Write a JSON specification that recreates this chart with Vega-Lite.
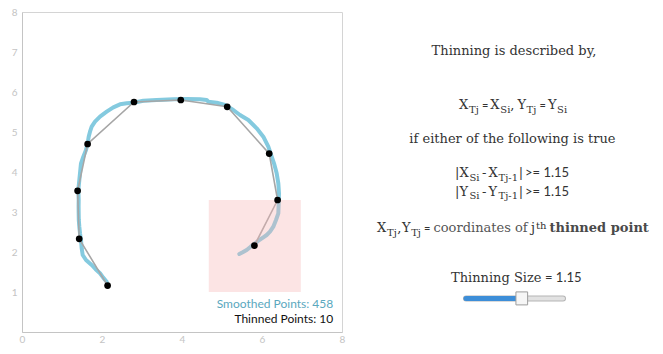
{
  "$schema": "https://vega.github.io/schema/vega-lite/v6.json",
  "width": 320,
  "height": 320,
  "padding": {"left": 5, "top": 7, "right": 5, "bottom": 5},
  "background": "white",
  "config": {
    "view": {"stroke": "#d4d4d4"},
    "axis": {"grid": false, "ticks": false, "tickSize": 0, "domainColor": "#c4c4c4", "labelColor": "#c4c4c4", "labelFont": "Lato", "labelFontSize": 10, "labelFlush": false, "labelOverlap": false},
    "axisX": {"labelPadding": 2},
    "axisY": {"labelPadding": 5, "minExtent": 17, "maxExtent": 17}
  },
  "datasets": {
    "smoothed": [
      {"i": 1, "x": 2.14, "y": 1.17}, {"i": 2, "x": 2.117, "y": 1.258}, {"i": 3, "x": 2.03, "y": 1.36}, {"i": 4, "x": 1.95, "y": 1.467},
      {"i": 5, "x": 1.84, "y": 1.57}, {"i": 6, "x": 1.742, "y": 1.675}, {"i": 7, "x": 1.6, "y": 1.8}, {"i": 8, "x": 1.517, "y": 1.925},
      {"i": 9, "x": 1.492, "y": 2.092}, {"i": 10, "x": 1.475, "y": 2.3}, {"i": 11, "x": 1.45, "y": 2.467}, {"i": 12, "x": 1.433, "y": 2.633},
      {"i": 13, "x": 1.42, "y": 2.8}, {"i": 14, "x": 1.417, "y": 2.967}, {"i": 15, "x": 1.415, "y": 3.13}, {"i": 16, "x": 1.417, "y": 3.3},
      {"i": 17, "x": 1.408, "y": 3.55}, {"i": 18, "x": 1.425, "y": 3.717}, {"i": 19, "x": 1.45, "y": 3.967}, {"i": 20, "x": 1.475, "y": 4.217},
      {"i": 21, "x": 1.533, "y": 4.383}, {"i": 22, "x": 1.6, "y": 4.55}, {"i": 23, "x": 1.642, "y": 4.717}, {"i": 24, "x": 1.667, "y": 4.883},
      {"i": 25, "x": 1.7, "y": 5.008}, {"i": 26, "x": 1.742, "y": 5.133}, {"i": 27, "x": 1.825, "y": 5.258}, {"i": 28, "x": 1.95, "y": 5.383},
      {"i": 29, "x": 2.117, "y": 5.508}, {"i": 30, "x": 2.283, "y": 5.617}, {"i": 31, "x": 2.45, "y": 5.692}, {"i": 32, "x": 2.617, "y": 5.717},
      {"i": 33, "x": 2.783, "y": 5.733}, {"i": 34, "x": 3.033, "y": 5.783}, {"i": 35, "x": 3.367, "y": 5.8}, {"i": 36, "x": 3.783, "y": 5.817},
      {"i": 37, "x": 4.117, "y": 5.825}, {"i": 38, "x": 4.45, "y": 5.817}, {"i": 39, "x": 4.617, "y": 5.8}, {"i": 40, "x": 4.658, "y": 5.758},
      {"i": 41, "x": 4.867, "y": 5.733}, {"i": 42, "x": 5.075, "y": 5.675}, {"i": 43, "x": 5.283, "y": 5.55}, {"i": 44, "x": 5.45, "y": 5.425},
      {"i": 45, "x": 5.658, "y": 5.3}, {"i": 46, "x": 5.867, "y": 5.092}, {"i": 47, "x": 6.033, "y": 4.883}, {"i": 48, "x": 6.158, "y": 4.633},
      {"i": 49, "x": 6.242, "y": 4.383}, {"i": 50, "x": 6.3, "y": 4.217}, {"i": 51, "x": 6.367, "y": 3.967}, {"i": 52, "x": 6.408, "y": 3.717},
      {"i": 53, "x": 6.425, "y": 3.467}, {"i": 54, "x": 6.417, "y": 3.217}, {"i": 55, "x": 6.408, "y": 2.967}, {"i": 56, "x": 6.35, "y": 2.8},
      {"i": 57, "x": 6.283, "y": 2.633}, {"i": 58, "x": 6.2, "y": 2.508}, {"i": 59, "x": 6.117, "y": 2.425}, {"i": 60, "x": 6.033, "y": 2.367},
      {"i": 61, "x": 5.933, "y": 2.3}, {"i": 62, "x": 5.825, "y": 2.217}, {"i": 63, "x": 5.717, "y": 2.133}, {"i": 64, "x": 5.617, "y": 2.05},
      {"i": 65, "x": 5.517, "y": 1.992}, {"i": 66, "x": 5.433, "y": 1.95}
    ],
    "thinned": [
      {"j": 1, "x": 2.14, "y": 1.16}, {"j": 2, "x": 1.43, "y": 2.33}, {"j": 3, "x": 1.39, "y": 3.53}, {"j": 4, "x": 1.64, "y": 4.7},
      {"j": 5, "x": 2.8, "y": 5.75}, {"j": 6, "x": 3.97, "y": 5.8}, {"j": 7, "x": 5.13, "y": 5.63}, {"j": 8, "x": 6.18, "y": 4.46},
      {"j": 9, "x": 6.39, "y": 3.3}, {"j": 10, "x": 5.81, "y": 2.16}
    ],
    "window": [{"x": 4.67, "x2": 6.97, "y": 1.0, "y2": 3.3}],
    "notes": [
      {"role": "head", "text": "Thinning is described by,", "x": 12.3, "y": 6.925},
      {"role": "head", "text": "if either of the following is true", "x": 12.26, "y": 4.7175},
      {"role": "main", "text": "Thinning Size", "x": 10.725, "y": 1.25},
      {"role": "sans", "text": "= 1.15", "x": 13.075, "y": 1.25},

      {"role": "main", "text": "X", "x": 10.925, "y": 5.575},
      {"role": "sub", "text": "Tj", "x": 11.175, "y": 5.4875},
      {"role": "eq", "text": "=", "x": 11.4975, "y": 5.575},
      {"role": "main", "text": "X", "x": 11.7075, "y": 5.575},
      {"role": "sub", "text": "Si", "x": 11.9575, "y": 5.4875},
      {"role": "main", "text": ",", "x": 12.2075, "y": 5.575},
      {"role": "main", "text": "Y", "x": 12.385, "y": 5.575},
      {"role": "sub", "text": "Tj", "x": 12.615, "y": 5.4875},
      {"role": "eq", "text": "=", "x": 12.9375, "y": 5.575},
      {"role": "main", "text": "Y", "x": 13.1475, "y": 5.575},
      {"role": "sub", "text": "Si", "x": 13.3775, "y": 5.4875},

      {"role": "main", "text": "|X", "x": 10.825, "y": 3.8675},
      {"role": "sub", "text": "Si", "x": 11.185, "y": 3.7825},
      {"role": "main", "text": "-", "x": 11.5, "y": 3.8675},
      {"role": "main", "text": "X", "x": 11.6625, "y": 3.8675},
      {"role": "sub", "text": "Tj-1", "x": 11.9125, "y": 3.7825},
      {"role": "main", "text": "|", "x": 12.42, "y": 3.8675},
      {"role": "sans", "text": ">= 1.15", "x": 12.575, "y": 3.8675},

      {"role": "main", "text": "|Y", "x": 10.825, "y": 3.4075},
      {"role": "sub", "text": "Si", "x": 11.185, "y": 3.325},
      {"role": "main", "text": "-", "x": 11.5, "y": 3.4075},
      {"role": "main", "text": "Y", "x": 11.6625, "y": 3.4075},
      {"role": "sub", "text": "Tj-1", "x": 11.9125, "y": 3.325},
      {"role": "main", "text": "|", "x": 12.42, "y": 3.4075},
      {"role": "sans", "text": ">= 1.15", "x": 12.575, "y": 3.4075},

      {"role": "main", "text": "X", "x": 8.875, "y": 2.4925},
      {"role": "sub", "text": "Tj", "x": 9.125, "y": 2.4075},
      {"role": "main", "text": ",", "x": 9.38, "y": 2.4925},
      {"role": "main", "text": "Y", "x": 9.5, "y": 2.4925},
      {"role": "sub", "text": "Tj", "x": 9.73, "y": 2.4075},
      {"role": "eq", "text": "=", "x": 10.05, "y": 2.4925},
      {"role": "light", "text": "coordinates of", "x": 10.2875, "y": 2.4925},
      {"role": "main", "text": "j", "x": 12.725, "y": 2.4925},
      {"role": "sub", "text": "th", "x": 12.85, "y": 2.575},
      {"role": "bold", "text": "thinned point", "x": 13.1875, "y": 2.4925}
    ]
  },
  "layer": [
    {
      "layer": [
        {
          "data": {"name": "smoothed"},
          "mark": {"type": "line", "color": "#84cadf", "strokeWidth": 4, "strokeCap": "round", "strokeJoin": "round"},
          "encoding": {
            "x": {"field": "x", "type": "quantitative", "title": null, "scale": {"domain": [0, 8], "nice": false, "zero": false}, "axis": {"values": [0, 1, 2, 3, 4, 5, 6, 7, 8]}},
            "y": {"field": "y", "type": "quantitative", "title": null, "scale": {"domain": [0, 8], "nice": false, "zero": false}, "axis": {"values": [1, 2, 3, 4, 5, 6, 7, 8]}},
            "order": {"field": "i", "type": "quantitative"}
          }
        },
        {
          "data": {"name": "thinned"},
          "mark": {"type": "line", "color": "#a6a6a6", "strokeWidth": 1.6},
          "encoding": {
            "x": {"field": "x", "type": "quantitative", "title": null},
            "y": {"field": "y", "type": "quantitative", "title": null},
            "order": {"field": "j", "type": "quantitative"}
          }
        },
        {
          "data": {"name": "window"},
          "mark": {"type": "rect", "color": "#f8b4b4", "opacity": 0.36},
          "encoding": {
            "x": {"field": "x", "type": "quantitative", "title": null},
            "x2": {"field": "x2"},
            "y": {"field": "y", "type": "quantitative", "title": null},
            "y2": {"field": "y2"}
          }
        },
        {
          "data": {"name": "thinned"},
          "mark": {"type": "point", "filled": true, "color": "#000000", "size": 45, "opacity": 1},
          "encoding": {
            "x": {"field": "x", "type": "quantitative", "title": null},
            "y": {"field": "y", "type": "quantitative", "title": null}
          }
        },
        {
          "data": {"values": [{"label": "Smoothed Points: 458"}]},
          "mark": {"type": "text", "align": "right", "baseline": "middle", "font": "Lato", "fontSize": 12, "color": "#5aa8be"},
          "encoding": {
            "x": {"datum": 7.78, "type": "quantitative", "title": null},
            "y": {"datum": 0.7, "type": "quantitative", "title": null},
            "text": {"field": "label"}
          }
        },
        {
          "data": {"values": [{"label": "Thinned Points: 10"}]},
          "mark": {"type": "text", "align": "right", "baseline": "middle", "font": "Lato", "fontSize": 12, "color": "#111111"},
          "encoding": {
            "x": {"datum": 7.78, "type": "quantitative", "title": null},
            "y": {"datum": 0.3175, "type": "quantitative", "title": null},
            "text": {"field": "label"}
          }
        },
        {
          "data": {"name": "notes"},
          "transform": [{"filter": "datum.role === 'head'"}],
          "mark": {"type": "text", "align": "center", "baseline": "alphabetic", "font": "DejaVu Serif", "fontSize": 13, "color": "#333333"},
          "encoding": {
            "x": {"field": "x", "type": "quantitative", "title": null},
            "y": {"field": "y", "type": "quantitative", "title": null},
            "text": {"field": "text"}
          }
        },
        {
          "data": {"name": "notes"},
          "transform": [{"filter": "datum.role === 'main'"}],
          "mark": {"type": "text", "align": "left", "baseline": "alphabetic", "font": "DejaVu Serif", "fontSize": 13, "color": "#333333"},
          "encoding": {
            "x": {"field": "x", "type": "quantitative", "title": null},
            "y": {"field": "y", "type": "quantitative", "title": null},
            "text": {"field": "text"}
          }
        },
        {
          "data": {"name": "notes"},
          "transform": [{"filter": "datum.role === 'bold'"}],
          "mark": {"type": "text", "align": "left", "baseline": "alphabetic", "font": "DejaVu Serif", "fontWeight": "bold", "fontSize": 13, "color": "#4a4a4a"},
          "encoding": {
            "x": {"field": "x", "type": "quantitative", "title": null},
            "y": {"field": "y", "type": "quantitative", "title": null},
            "text": {"field": "text"}
          }
        },
        {
          "data": {"name": "notes"},
          "transform": [{"filter": "datum.role === 'light'"}],
          "mark": {"type": "text", "align": "left", "baseline": "alphabetic", "font": "DejaVu Serif", "fontSize": 13, "color": "#555555"},
          "encoding": {
            "x": {"field": "x", "type": "quantitative", "title": null},
            "y": {"field": "y", "type": "quantitative", "title": null},
            "text": {"field": "text"}
          }
        },
        {
          "data": {"name": "notes"},
          "transform": [{"filter": "datum.role === 'sub'"}],
          "mark": {"type": "text", "align": "left", "baseline": "alphabetic", "font": "DejaVu Serif", "fontSize": 10, "color": "#333333"},
          "encoding": {
            "x": {"field": "x", "type": "quantitative", "title": null},
            "y": {"field": "y", "type": "quantitative", "title": null},
            "text": {"field": "text"}
          }
        },
        {
          "data": {"name": "notes"},
          "transform": [{"filter": "datum.role === 'sans'"}],
          "mark": {"type": "text", "align": "left", "baseline": "alphabetic", "font": "Lato", "fontSize": 13, "color": "#333333"},
          "encoding": {
            "x": {"field": "x", "type": "quantitative", "title": null},
            "y": {"field": "y", "type": "quantitative", "title": null},
            "text": {"field": "text"}
          }
        },
        {
          "data": {"name": "notes"},
          "transform": [{"filter": "datum.role === 'eq'"}],
          "mark": {"type": "text", "align": "left", "baseline": "alphabetic", "font": "Lato", "fontSize": 11, "color": "#333333"},
          "encoding": {
            "x": {"field": "x", "type": "quantitative", "title": null},
            "y": {"field": "y", "type": "quantitative", "title": null},
            "text": {"field": "text"}
          }
        }
      ]
    },
    {
      "data": {"values": [{"min": 0, "max": 2, "value": 1.15}]},
      "layer": [
        {
          "mark": {"type": "rule", "color": "#b5b5b5", "strokeWidth": 6, "strokeCap": "round"},
          "encoding": {
            "x": {"field": "min", "type": "quantitative", "title": null, "scale": {"domain": [0, 2], "range": [444, 541]}, "axis": null},
            "x2": {"field": "max"},
            "y": {"datum": 0.84, "type": "quantitative", "title": null}
          }
        },
        {
          "mark": {"type": "rule", "color": "#e2e2e2", "strokeWidth": 4, "strokeCap": "round"},
          "encoding": {
            "x": {"field": "min", "type": "quantitative", "title": null, "scale": {"domain": [0, 2], "range": [444, 541]}, "axis": null},
            "x2": {"field": "max"},
            "y": {"datum": 0.84, "type": "quantitative", "title": null}
          }
        },
        {
          "mark": {"type": "rule", "color": "#3d8ed8", "strokeWidth": 5, "strokeCap": "round"},
          "encoding": {
            "x": {"field": "min", "type": "quantitative", "title": null, "scale": {"domain": [0, 2], "range": [444, 541]}, "axis": null},
            "x2": {"field": "value"},
            "y": {"datum": 0.84, "type": "quantitative", "title": null}
          }
        },
        {
          "mark": {"type": "point", "shape": "M-0.9,-1H0.9V1H-0.9Z", "filled": true, "fill": "#f6f6f6", "stroke": "#9c9c9c", "strokeWidth": 1, "size": 169, "opacity": 1},
          "encoding": {
            "x": {"field": "value", "type": "quantitative", "title": null, "scale": {"domain": [0, 2], "range": [444, 541]}, "axis": null},
            "y": {"datum": 0.84, "type": "quantitative", "title": null}
          }
        }
      ]
    }
  ],
  "resolve": {"scale": {"x": "independent"}}
}
